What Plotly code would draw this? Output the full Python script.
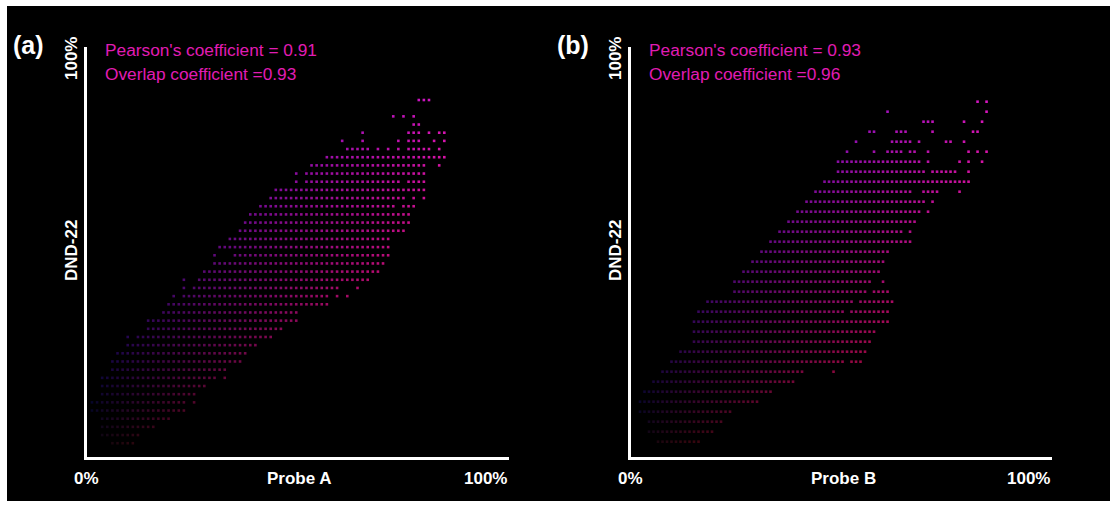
import plotly.graph_objects as go

# ---- Colocalisation scatter data -------------------------------------------
# Each panel is a quantised 2D scatter: rows are DND-22 intensity levels,
# and each row lists runs (first_bin, last_bin) of occupied Probe bins.

# Panel (a): Probe A vs DND-22
PROBE_A_BIN0 = 1.18      # % at bin 0
PROBE_A_BINW = 1.21      # % per bin
DND_A_TOP = 87.07        # % of the highest row
DND_A_STEP = 1.993       # % between rows
ROWS_A = [
    [(64, 66)],
    [],
    [(59, 59), (61, 61), (63, 63)],
    [(63, 64)],
    [(53, 53), (62, 64), (66, 66), (68, 69)],
    [(49, 49), (53, 53), (60, 60), (62, 64), (67, 67), (69, 69)],
    [(50, 54), (56, 56), (58, 58), (60, 60), (62, 66), (68, 68)],
    [(46, 69)],
    [(43, 65), (68, 68)],
    [(40, 40), (42, 65)],
    [(40, 40), (42, 60), (62, 65)],
    [(36, 65)],
    [(35, 61), (63, 63), (65, 65)],
    [(33, 59), (61, 63)],
    [(31, 62)],
    [(30, 62)],
    [(29, 61)],
    [(27, 58)],
    [(25, 58)],
    [(24, 24), (28, 58)],
    [(24, 57)],
    [(22, 56)],
    [(18, 18), (21, 54)],
    [(18, 18), (20, 48), (52, 52)],
    [(16, 16), (18, 46), (48, 48), (50, 50)],
    [(15, 46)],
    [(14, 40)],
    [(11, 40)],
    [(11, 37)],
    [(7, 7), (9, 35)],
    [(7, 32)],
    [(5, 30)],
    [(4, 29)],
    [(4, 26)],
    [(2, 24), (26, 26)],
    [(2, 22)],
    [(2, 20)],
    [(0, 18), (20, 20)],
    [(0, 18)],
    [(2, 15)],
    [(2, 12)],
    [(2, 9)],
    [(4, 8)],
]

# Panel (b): Probe B vs DND-22
PROBE_B_BIN0 = 2.14
PROBE_B_BINW = 1.069
DND_B_TOP = 86.66
DND_B_STEP = 2.439
ROWS_B = [
    [(75, 75), (77, 77)],
    [(55, 55), (77, 77)],
    [(63, 65), (72, 72), (76, 76)],
    [(51, 52), (57, 59), (65, 65), (74, 75)],
    [(48, 48), (56, 60), (62, 62), (68, 69), (72, 72)],
    [(46, 46), (52, 52), (55, 58), (60, 61), (64, 64), (73, 73), (75, 75), (77, 77)],
    [(44, 62), (64, 64), (71, 71), (73, 73), (76, 76)],
    [(44, 63), (65, 70), (73, 73)],
    [(41, 73)],
    [(39, 60), (63, 66), (71, 71)],
    [(37, 63), (65, 65)],
    [(35, 62), (64, 64)],
    [(33, 61)],
    [(31, 58), (60, 60)],
    [(29, 60)],
    [(27, 55)],
    [(25, 54)],
    [(23, 53)],
    [(21, 51), (54, 54)],
    [(21, 50), (52, 55)],
    [(15, 47), (49, 56)],
    [(13, 45), (47, 55)],
    [(12, 55)],
    [(12, 52)],
    [(12, 51)],
    [(9, 50)],
    [(7, 45), (47, 49)],
    [(5, 36), (43, 43)],
    [(3, 34)],
    [(1, 29)],
    [(0, 26)],
    [(0, 20)],
    [(2, 18)],
    [(2, 16)],
    [(4, 13)],
]

PANEL_TAGS = ["(a)", "(b)"]
X_TITLES = ["Probe A", "Probe B"]
Y_TITLE = "DND-22"
PEARSON = [0.91, 0.93]
OVERLAP = [0.93, 0.96]


def expand(rows, x0, xw, ytop, ystep):
    xs, ys = [], []
    for k, runs in enumerate(rows):
        yv = ytop - k * ystep
        for a, b in runs:
            for c in range(a, b + 1):
                xs.append(x0 + c * xw)
                ys.append(yv)
    return xs, ys


def dot_colors(xs, ys):
    # red follows the probe channel, blue follows the DND-22 channel
    out = []
    for x, y in zip(xs, ys):
        xf, yf = max(x, 0) / 100, max(y, 0) / 100
        r = int(245 * xf ** 0.8)
        b = int(215 * yf ** 0.8)
        g = int(6 + 22 * xf * yf)
        out.append(f"rgb({min(r,255)},{g},{min(b,255)})")
    return out


W, H = 1110, 510


def fx(px):
    return px / W


def fy(py):
    return 1 - py / H


fig = go.Figure()

panels = [
    (ROWS_A, PROBE_A_BIN0, PROBE_A_BINW, DND_A_TOP, DND_A_STEP, "x", "y"),
    (ROWS_B, PROBE_B_BIN0, PROBE_B_BINW, DND_B_TOP, DND_B_STEP, "x2", "y2"),
]
for rows, x0, xw, yt, ys_, xa, ya in panels:
    xs, ys = expand(rows, x0, xw, yt, ys_)
    fig.add_trace(go.Scatter(
        x=xs, y=ys, mode="markers", xaxis=xa, yaxis=ya,
        marker=dict(symbol="square", size=2.6, color=dot_colors(xs, ys),
                    line=dict(width=0)),
        hoverinfo="skip", showlegend=False,
    ))

axis_px = [(87, 509), (631, 1052)]
y_top_px, y_bot_px = 47, 457

axis_common = dict(range=[0, 100], showgrid=False, zeroline=False,
                   showticklabels=False, ticks="", showline=True,
                   linecolor="white", linewidth=2.5, fixedrange=True)

fig.update_layout(
    width=W, height=H,
    margin=dict(l=0, r=0, t=0, b=0),
    paper_bgcolor="white",
    plot_bgcolor="rgba(0,0,0,0)",
    xaxis=dict(domain=[fx(axis_px[0][0]), fx(axis_px[0][1])], anchor="y", **axis_common),
    yaxis=dict(domain=[fy(y_bot_px), fy(y_top_px)], anchor="x", **axis_common),
    xaxis2=dict(domain=[fx(axis_px[1][0]), fx(axis_px[1][1])], anchor="y2", **axis_common),
    yaxis2=dict(domain=[fy(y_bot_px), fy(y_top_px)], anchor="x2", **axis_common),
    shapes=[dict(type="rect", xref="paper", yref="paper", layer="below",
                 x0=fx(7), x1=1.0, y0=fy(501), y1=fy(6),
                 fillcolor="black", line=dict(width=0))],
)

BOLD = "Liberation Sans"
PINK = "#e01cb4"
ann = []
for i, (xl, xr) in enumerate(axis_px):
    dx = xl - 87
    ann.append(dict(text=f"<b>{PANEL_TAGS[i]}</b>", x=fx(11 + dx), y=fy(45),
                    xanchor="left", yanchor="middle",
                    font=dict(family=BOLD, size=25, color="white")))
    ann.append(dict(text="<b>100%</b>", x=fx(71 + dx), y=fy(59), textangle=-90,
                    xanchor="center", yanchor="middle",
                    font=dict(family=BOLD, size=17, color="white")))
    ann.append(dict(text=f"<b>{Y_TITLE}</b>", x=fx(71 + dx), y=fy(251), textangle=-90,
                    xanchor="center", yanchor="middle",
                    font=dict(family=BOLD, size=17, color="white")))
    ann.append(dict(text="<b>0%</b>", x=fx(86 + dx), y=fy(478),
                    xanchor="center", yanchor="middle",
                    font=dict(family=BOLD, size=17, color="white")))
    ann.append(dict(text=f"<b>{X_TITLES[i]}</b>", x=fx(299 + dx), y=fy(478),
                    xanchor="center", yanchor="middle",
                    font=dict(family=BOLD, size=17, color="white")))
    ann.append(dict(text="<b>100%</b>", x=fx(xr), y=fy(478),
                    xanchor="right", yanchor="middle",
                    font=dict(family=BOLD, size=17, color="white")))
    ann.append(dict(text=f"Pearson's coefficient = {PEARSON[i]:.2f}", x=fx(103 + dx), y=fy(50),
                    xanchor="left", yanchor="middle",
                    font=dict(family="Liberation Sans", size=17.3, color=PINK)))
    ann.append(dict(text=f"Overlap coefficient ={OVERLAP[i]:.2f}", x=fx(103 + dx), y=fy(74),
                    xanchor="left", yanchor="middle",
                    font=dict(family="Liberation Sans", size=17.3, color=PINK)))

for a in ann:
    a.update(xref="paper", yref="paper", showarrow=False)
fig.update_layout(annotations=ann)

fig.write_html("out.html")
